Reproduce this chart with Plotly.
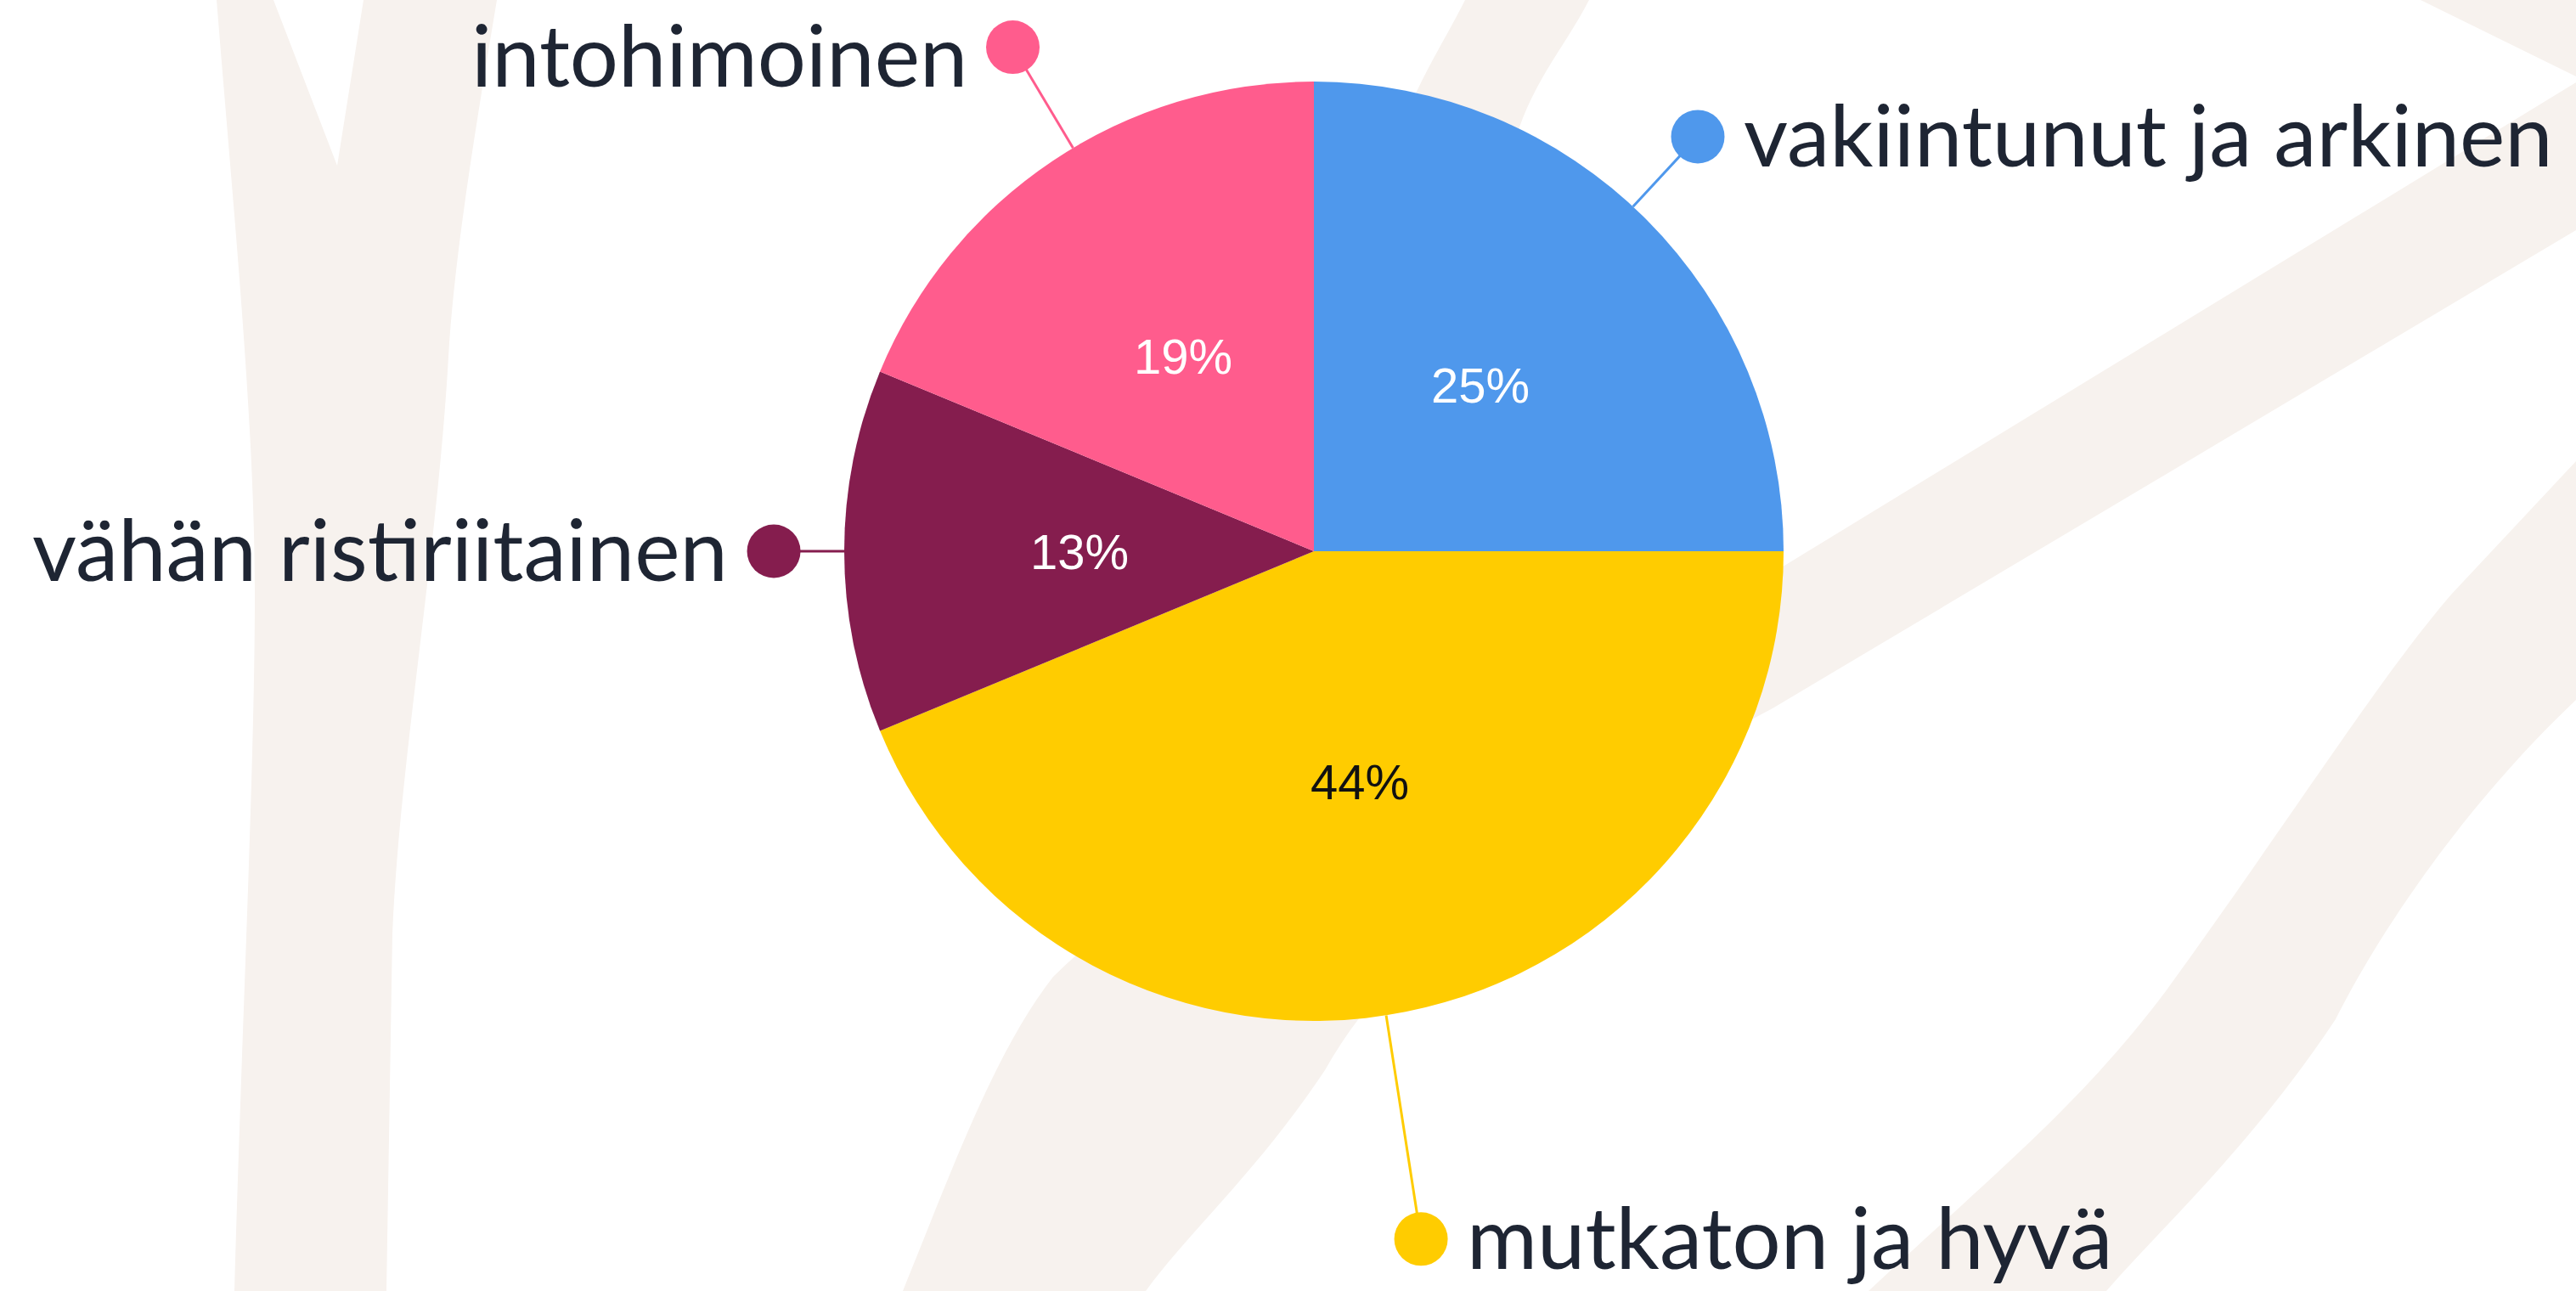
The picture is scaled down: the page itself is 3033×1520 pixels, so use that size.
import math
import plotly.graph_objects as go

# ---------------- data ----------------
categories = ["vakiintunut ja arkinen", "mutkaton ja hyvä", "vähän ristiriitainen", "intohimoinen"]
values = [4, 7, 2, 3]                      # shares 25 %, 43.75 %, 12.5 %, 18.75 %
slice_colors = ["#4f98ec", "#ffcc00", "#851d4e", "#ff5c8d"]
pct_font_colors = ["#ffffff", "#111111", "#ffffff", "#ffffff"]

# label layout: leader length (fraction of radius) and small angle nudges (deg)
label_radius = [1.203, 1.482, 1.150, 1.250]
label_angle_nudge = [-2.2, 2.4, 0.0, 2.9]

# ---------------- geometry ----------------
W, H = 3033, 1520
CX, CY, R = 1547, 649, 553
TEXT_COLOR = "#1e2533"
BEIGE = "#f7f2ee"
LABEL_SIZE = 101
PCT_SIZE = 58

total = float(sum(values))


def polar(theta_deg, r):
    t = math.radians(theta_deg)
    return CX + r * math.sin(t), CY - r * math.cos(t)


def pct_label(v):
    return f"{int(math.floor(v / total * 100 + 0.5))}%"


fig = go.Figure()

fig.add_trace(go.Pie(
    labels=categories,
    values=values,
    sort=False,
    direction="clockwise",
    rotation=0,
    marker=dict(colors=slice_colors, line=dict(width=0)),
    textinfo="none",
    hoverinfo="label+percent",
    showlegend=False,
    domain=dict(
        x=[(CX - R) / W, (CX + R) / W],
        y=[(H - CY - R) / H, (H - CY + R) / H],
    ),
))

annotations = []
start = 0.0
for i, (cat, v) in enumerate(zip(categories, values)):
    span = v / total * 360.0
    mid = start + span / 2.0
    start += span

    # percentage inside slice
    px, py = polar(mid, 0.5 * R)
    annotations.append(dict(
        x=px, y=py, xref="x", yref="y", text=pct_label(v), showarrow=False,
        xanchor="center", yanchor="middle",
        font=dict(family="Liberation Sans, Arial, sans-serif", size=PCT_SIZE,
                  color=pct_font_colors[i]),
    ))

    # leader line + dot
    ang = mid + label_angle_nudge[i]
    ex, ey = polar(ang, R)
    dx, dy = polar(ang, label_radius[i] * R)
    fig.add_trace(go.Scatter(
        x=[ex, dx], y=[ey, dy], mode="lines",
        line=dict(color=slice_colors[i], width=3),
        hoverinfo="skip", showlegend=False,
    ))
    fig.add_trace(go.Scatter(
        x=[dx], y=[dy], mode="markers",
        marker=dict(color=slice_colors[i], size=63, line=dict(width=0)),
        hoverinfo="skip", showlegend=False,
    ))

    right_side = math.sin(math.radians(ang)) > 0
    # keep the text box inside the page (shift down a little if needed)
    yshift = 4
    box_top = dy - yshift - 0.6 * LABEL_SIZE
    if box_top < 2:
        yshift -= (2 - box_top)
    annotations.append(dict(
        x=dx, y=dy, xref="x", yref="y", text=cat, showarrow=False,
        xanchor="left" if right_side else "right", yanchor="middle",
        xshift=52 if right_side else -52, yshift=yshift,
        font=dict(family="Lato, Inter, sans-serif", size=LABEL_SIZE, color=TEXT_COLOR),
    ))

# decorative brush strokes in the background
stroke_paths = [
    "M 255,0 L 322,0 L 397,195 L 428,0 L 585,0 C 560,150 535,300 528,420 "
    "C 515,650 470,900 462,1100 L 455,1520 L 276,1520 C 285,1200 300,900 300,700 "
    "C 300,500 275,250 255,0 Z",
    "M 1063,1520 C 1120,1380 1170,1240 1240,1150 C 1500,900 1800,840 2096,669 "
    "L 3033,97 L 3033,271 L 2087,834 C 1850,960 1650,1100 1560,1260 "
    "C 1480,1380 1400,1450 1349,1520 Z",
    "M 2200,1520 C 2350,1380 2450,1300 2550,1167 C 2700,960 2800,800 2886,700 "
    "L 3033,543 L 3033,824 C 2900,950 2800,1100 2750,1200 C 2650,1350 2550,1440 2480,1520 Z",
    "M 1725,0 L 1871,0 C 1840,60 1800,100 1780,180 L 1640,180 C 1660,110 1700,50 1725,0 Z",
    "M 2850,0 L 3033,0 L 3033,90 Z",
]
shapes = [dict(type="path", path=p, xref="x", yref="y", fillcolor=BEIGE,
               line=dict(width=0), layer="below") for p in stroke_paths]

fig.update_layout(
    width=W, height=H,
    margin=dict(l=0, r=0, t=0, b=0),
    paper_bgcolor="#ffffff",
    plot_bgcolor="rgba(0,0,0,0)",
    xaxis=dict(range=[0, W], visible=False, fixedrange=True, domain=[0, 1]),
    yaxis=dict(range=[H, 0], visible=False, fixedrange=True, domain=[0, 1]),
    annotations=annotations,
    shapes=shapes,
    showlegend=False,
)

# remove the browser's default page margin so the figure sits at (0, 0)
fig.write_html(
    "out.html",
    config={"displayModeBar": False},
    post_script="document.body.style.margin='0';document.body.style.overflow='hidden';",
)
